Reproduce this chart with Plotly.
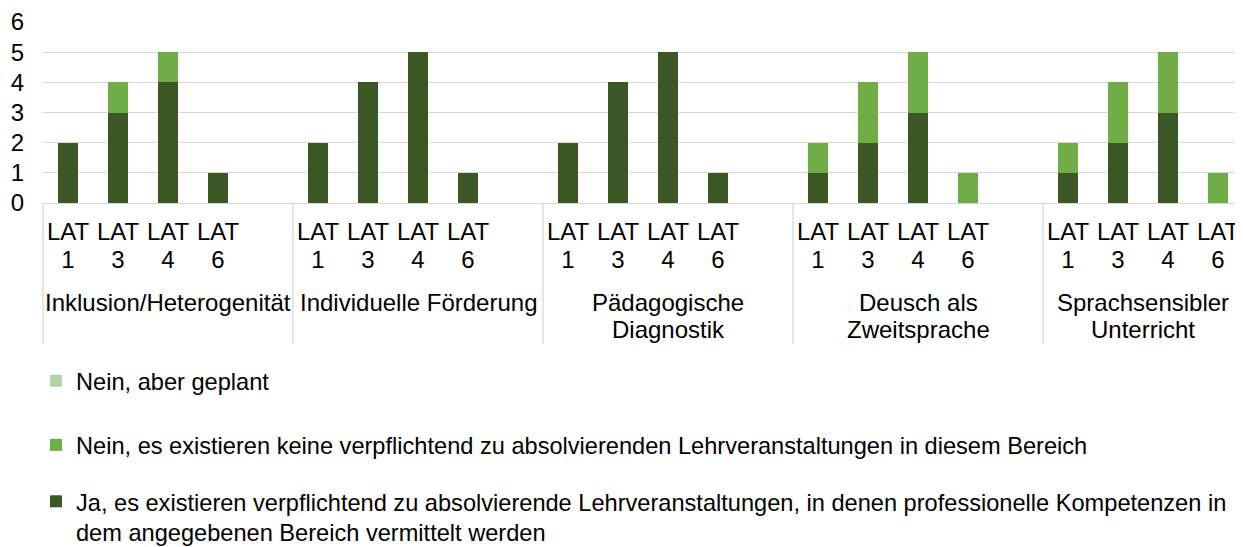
import plotly.graph_objects as go

# --- data ---
groups = [["Inklusion/Heterogenität"], ["Individuelle Förderung"], ["Pädagogische", "Diagnostik"],
          ["Deusch als", "Zweitsprache"], ["Sprachsensibler", "Unterricht"]]
lat_labels = ["LAT 1", "LAT 3", "LAT 4", "LAT 6"]

ja_pflicht = [2, 3, 4, 1,  2, 4, 5, 1,  2, 4, 5, 1,  1, 2, 3, 0,  1, 2, 3, 0]
nein_keine = [0, 1, 1, 0,  0, 0, 0, 0,  0, 0, 0, 0,  1, 2, 2, 1,  1, 2, 2, 1]
nein_geplant = [0, 0, 0, 0,  0, 0, 0, 0,  0, 0, 0, 0,  0, 0, 0, 0,  0, 0, 0, 0]

names = [
    "Nein, aber geplant",
    "Nein, es existieren keine verpflichtend zu absolvierenden Lehrveranstaltungen in diesem Bereich",
    "Ja, es existieren verpflichtend zu absolvierende Lehrveranstaltungen, in denen professionelle Kompetenzen in"
    "<br>dem angegebenen Bereich vermittelt werden",
]
colors = ["#B3D4A5", "#70AD47", "#3A5724"]

# --- layout geometry (window pixels; the page body adds an 8px margin) ---
OFF = 8
W, H = 1243 - OFF, 547 - OFF
PLOT_L, PLOT_T, PLOT_B = 43.3 - OFF, 22 - OFF, 203.5 - OFF
FONT = dict(family="Arial, Liberation Sans, sans-serif", size=24, color="#000000")
LEG_FONT = dict(FONT, size=23.6)

# each group gets 5 slots (4 bars + 1 empty spacer); the last group has no spacer
xs = [g * 5 + k for g in range(len(groups)) for k in range(len(lat_labels))]
x_min, x_max = -0.5, 23.5
edges = [-0.5, 4.5, 9.5, 14.5, 19.5, 23.5]


def py_paper(py):
    # window pixel row -> paper y
    return (PLOT_B - (py - OFF)) / (PLOT_B - PLOT_T)


def x_to_paper(x):
    return (x - x_min) / (x_max - x_min)


fig = go.Figure()
# the all-zero "geplant" series sits on the overlay axis that carries the second tick row
stack = [(names[2], ja_pflicht, colors[2], "legend3", "x"),
         (names[1], nein_keine, colors[1], "legend2", "x"),
         (names[0], nein_geplant, colors[0], "legend", "x2")]
for name, vals, col, leg, xax in stack:
    fig.add_trace(go.Bar(x=xs, y=vals, name=name, width=0.4, showlegend=True, xaxis=xax,
                         marker=dict(color=col, line_width=0), legend=leg))

# group labels under the LAT ticks, one annotation per line
for g, lines in enumerate(groups):
    for i, line in enumerate(lines):
        fig.add_annotation(x=x_to_paper((edges[g] + edges[g + 1]) / 2), xref="paper",
                           xanchor="center", y=py_paper(303 + i * 27), yref="paper",
                           yanchor="middle", text=line, showarrow=False, font=FONT)

# group dividers below the axis
for e in edges:
    fig.add_shape(type="line", xref="paper", yref="paper",
                  x0=x_to_paper(e), x1=x_to_paper(e), y0=0, y1=py_paper(345),
                  line=dict(color="#D9D9D9", width=1.3))

legend_common = dict(xref="container", yref="container", x=(36 - OFF) / W, xanchor="left",
                     yanchor="middle", font=LEG_FONT, valign="top", bgcolor="rgba(0,0,0,0)",
                     itemclick=False)

tick_top = [s.split(" ")[0] for s in lat_labels] * len(groups)
tick_bottom = [s.split(" ")[1] for s in lat_labels] * len(groups)

fig.update_layout(
    width=W, height=H,
    margin=dict(l=PLOT_L, r=0, t=PLOT_T, b=H - PLOT_B, autoexpand=False),
    barmode="stack",
    plot_bgcolor="white", paper_bgcolor="white",
    font=FONT,
    xaxis=dict(range=[x_min, x_max], tickvals=xs, ticktext=tick_top,
               showgrid=False, zeroline=False, showline=True, linecolor="#D9D9D9",
               linewidth=1.3, ticks="", ticklabelstandoff=7, tickfont=FONT),
    xaxis2=dict(range=[x_min, x_max], tickvals=xs, ticktext=tick_bottom, overlaying="x",
                anchor="y", side="bottom", showgrid=False, zeroline=False, showline=False,
                ticks="", ticklabelstandoff=40, tickfont=FONT),
    yaxis=dict(range=[0, 6], dtick=1, showgrid=True, gridcolor="#D9D9D9", gridwidth=1.3,
               zeroline=False, showline=False, ticks="", ticklabelstandoff=18, tickfont=FONT),
    legend=dict(y=1 - (381 - OFF) / H, **legend_common),
    legend2=dict(y=1 - (445 - OFF) / H, **legend_common),
    legend3=dict(y=1 - (517 - OFF) / H, **legend_common),
)

fig.write_html("out.html")
